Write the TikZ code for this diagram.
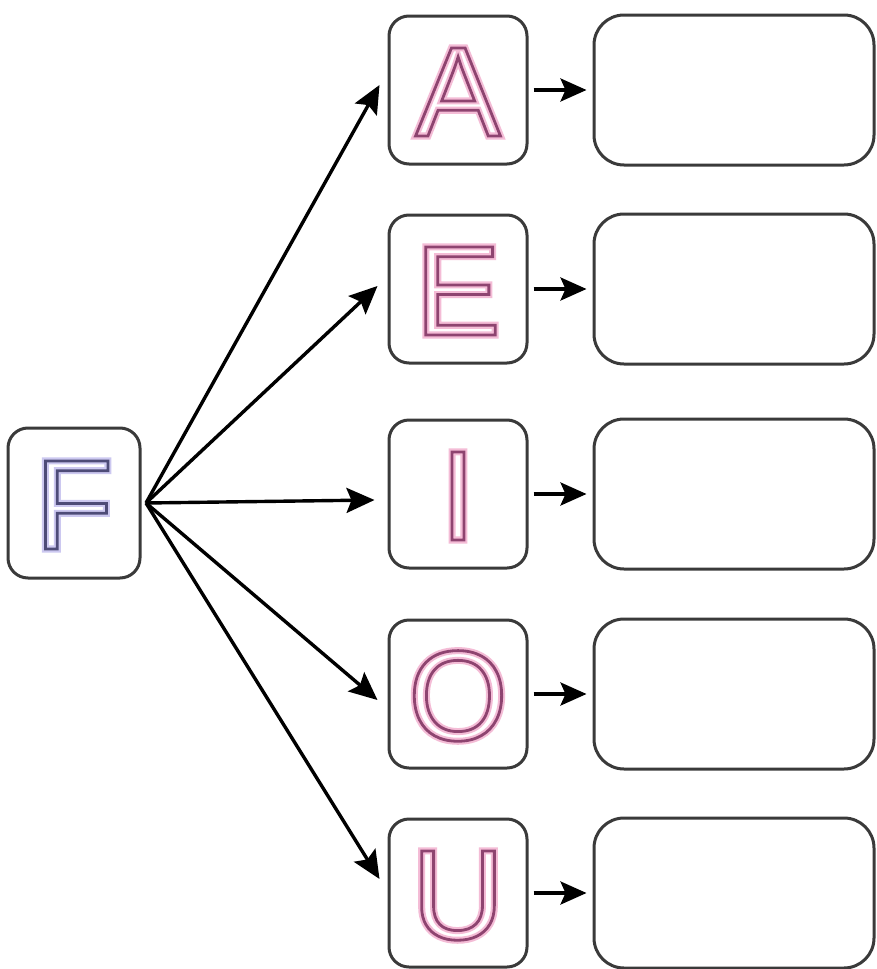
\documentclass[tikz,border=0pt]{standalone}
\usepackage{fontspec}
\setsansfont{Liberation Sans}
\usetikzlibrary{arrows.meta}
\definecolor{boxline}{HTML}{3A3A3A}
\definecolor{vowel}{HTML}{8E4470}
\definecolor{vowelglow}{HTML}{F4BCD6}
\definecolor{fline}{HTML}{4E4C78}
\definecolor{fglow}{HTML}{CCC8F0}
\newcommand\hollowtext[3]{%
  \makebox[0pt][l]{\color{#2}\special{pdf:literal direct 1 Tr 7 w}#1\special{pdf:literal direct 0 Tr}}%
  {\color{#3}\special{pdf:literal direct 1 Tr 2.8 w}#1\special{pdf:literal direct 0 Tr}}}
\begin{document}
\begin{tikzpicture}[x=1pt,y=-1pt,
  rbox/.style={draw=boxline,line width=3pt,rounded corners=20pt,fill=white,inner sep=0pt},
  letterfont/.style={font=\sffamily\fontsize{128}{128}\selectfont,text height=92pt,text depth=0pt},
  lbox/.style={rbox,letterfont,minimum width=138pt,minimum height=148pt},
  ansbox/.style={rbox,rounded corners=30pt,minimum width=280pt,minimum height=150pt},
  bigarrow/.style={line width=3.4pt,-{Stealth[length=28pt,width=25pt,inset=5pt]}},
  smallarrow/.style={line width=3.4pt,-{Stealth[length=26pt,width=23pt,inset=5pt]},shorten <=5pt,shorten >=6pt}]
\useasboundingbox (0,0) rectangle (876,969);
\node[rbox,letterfont,minimum width=132pt,minimum height=150pt] (F) at (74,503) {\hollowtext{F}{fglow}{fline}};
\node[lbox] (A) at (458,90) {\hollowtext{A}{vowelglow}{vowel}};
\node[lbox] (E) at (458,289) {\hollowtext{E}{vowelglow}{vowel}};
\node[lbox] (I) at (458,494) {\hollowtext{I}{vowelglow}{vowel}};
\node[lbox] (O) at (458,694) {\hollowtext{O}{vowelglow}{vowel}};
\node[lbox] (U) at (458,893) {\hollowtext{U}{vowelglow}{vowel}};
\node[ansbox] (RA) at (734,90) {};
\node[ansbox] (RE) at (734,289) {};
\node[ansbox] (RI) at (734,494) {};
\node[ansbox] (RO) at (734,694) {};
\node[ansbox] (RU) at (734,893) {};
\coordinate (src) at (146,503);
\draw[bigarrow] (src) -- ([xshift=-8pt,yshift=5pt]A.west);
\draw[bigarrow] (src) -- ([xshift=-10pt,yshift=3pt]E.west);
\draw[bigarrow] (src) -- ([xshift=-13pt,yshift=-6pt]I.west);
\draw[bigarrow] (src) -- ([xshift=-10pt,yshift=-6pt]O.west);
\draw[bigarrow] (src) -- ([xshift=-8pt,yshift=14pt]U.west);
\foreach \a/\b in {A/RA,E/RE,I/RI,O/RO,U/RU}
  \draw[smallarrow] (\a.east) -- (\b.west);
\end{tikzpicture}
\end{document}
